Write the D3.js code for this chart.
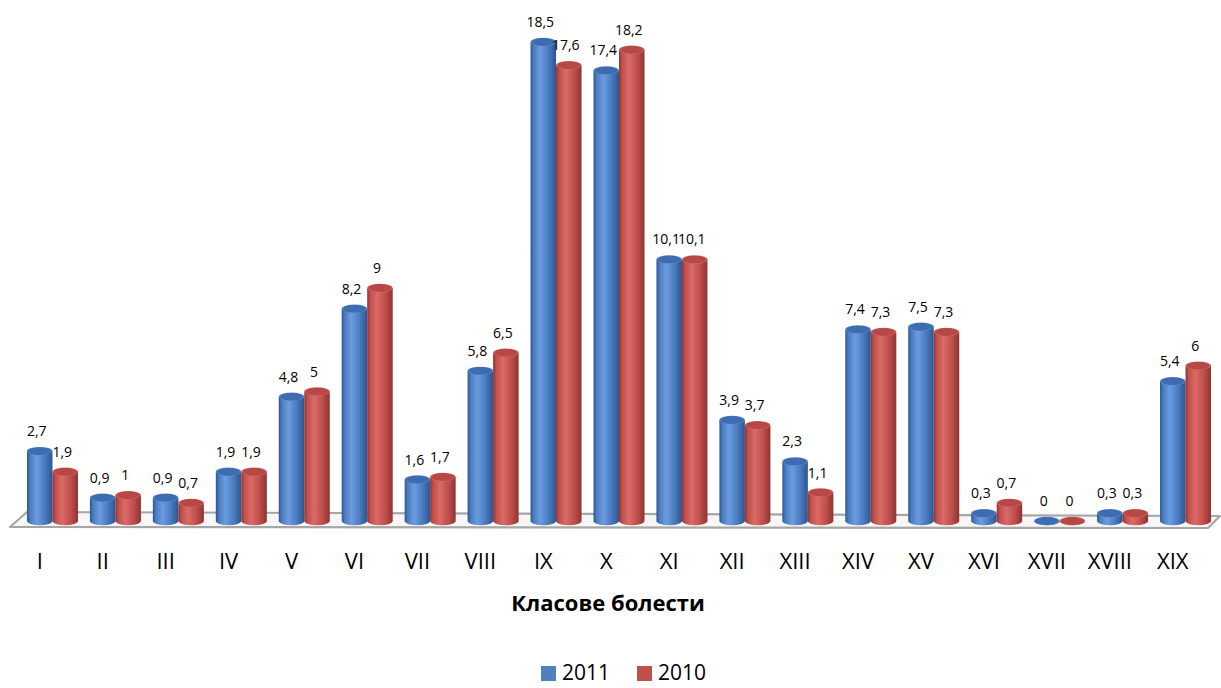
<!DOCTYPE html>
<html>
<head>
<meta charset="utf-8">
<script src="https://cdn.jsdelivr.net/npm/d3@7"></script>
<style>
  html, body { margin: 0; padding: 0; background: #fff; }
  svg { display: block; font-family: "Open Sans", "Liberation Sans", sans-serif; }
</style>
</head>
<body>
<svg id="chart" width="1221" height="688"></svg>
<script>
// Disease classes (Roman numerals) and shares per year
const categories = ["I","II","III","IV","V","VI","VII","VIII","IX","X","XI","XII","XIII","XIV","XV","XVI","XVII","XVIII","XIX"];
const seriesNames = ["2011", "2010"];
const values2011 = [2.7, 0.9, 0.9, 1.9, 4.8, 8.2, 1.6, 5.8, 18.5, 17.4, 10.1, 3.9, 2.3, 7.4, 7.5, 0.3, 0, 0.3, 5.4];
const values2010 = [1.9, 1, 0.7, 1.9, 5, 9, 1.7, 6.5, 17.6, 18.2, 10.1, 3.7, 1.1, 7.3, 7.3, 0.7, 0, 0.3, 6];
const axisTitle = "Класове болести";

const svg = d3.select("#chart");

const x = d3.scaleBand().domain(categories).range([21, 1217]).paddingInner(0).paddingOuter(0);
const x1 = d3.scaleBand().domain(seriesNames).range([0, x.bandwidth()]).paddingInner(0).paddingOuter(0.234);
const y = d3.scaleLinear().domain([0, 18.5]).range([521, 42]);

const palette = {
  "2011": { dark: "#2c5590", mid: "#4a7cc0", light: "#6c9be0", top: "#3e6cb0", rim: "#6d97d6", flat: "#4f81bd" },
  "2010": { dark: "#8f3331", mid: "#c0504d", light: "#dc6a66", top: "#b84845", rim: "#dc7a76", flat: "#c0504d" }
};

const defs = svg.append("defs");
seriesNames.forEach(s => {
  const p = palette[s];
  const g = defs.append("linearGradient").attr("id", "body" + s)
    .attr("x1", "0%").attr("x2", "100%").attr("y1", "0%").attr("y2", "0%");
  [[0, p.dark], [0.12, p.mid], [0.38, p.light], [0.7, p.mid], [1, p.dark]]
    .forEach(([o, c]) => g.append("stop").attr("offset", o).attr("stop-color", c));
  const t = defs.append("radialGradient").attr("id", "top" + s).attr("cx", "50%").attr("cy", "50%").attr("r", "55%");
  [[0, p.top], [0.75, p.top], [1, p.rim]]
    .forEach(([o, c]) => t.append("stop").attr("offset", o).attr("stop-color", c));
});

// Floor plate
const y0 = y(0);
const floorPts = [
  [x.range()[0] - 11, y0 + 6],
  [x.range()[1] - 9, y0 + 7],
  [x.range()[1] + 3, y0 - 5],
  [x.range()[0] + 6, y0 - 9]
];
svg.append("polygon")
  .attr("points", floorPts.map(p => p.join(",")).join(" "))
  .attr("fill", "#f7f7f7")
  .attr("stroke", "#a6a6a6")
  .attr("stroke-width", 2.2)
  .attr("stroke-linejoin", "round");

// Data table for bars
const rows = [];
categories.forEach((c, i) => {
  rows.push({ cat: c, series: "2011", value: values2011[i] });
  rows.push({ cat: c, series: "2010", value: values2010[i] });
});

const ry = 4.2;
const bars = svg.append("g").selectAll("g").data(rows).join("g");

bars.each(function(d) {
  const g = d3.select(this);
  const left = x(d.cat) + x1(d.series);
  const w = x1.bandwidth();
  const rx = w / 2;
  const cx = left + rx;
  const yt = y(d.value);
  const yb = y(0);
  // cylinder body with rounded bottom
  g.append("path")
    .attr("d", `M${left},${yt} L${left},${yb} A${rx},${ry} 0 0 0 ${left + w},${yb} L${left + w},${yt} Z`)
    .attr("fill", `url(#body${d.series})`);
  // top cap
  g.append("ellipse")
    .attr("cx", cx).attr("cy", yt).attr("rx", rx).attr("ry", ry)
    .attr("fill", `url(#top${d.series})`);
});

// Value labels
svg.append("g").selectAll("text").data(rows).join("text")
  .attr("x", d => x(d.cat) + x1(d.series) + x1.bandwidth() / 2 - 3)
  .attr("y", d => y(d.value) - 15)
  .attr("text-anchor", "middle")
  .attr("font-size", 14)
  .attr("fill", "#000")
  .text(d => String(d.value).replace(".", ","));

// Category axis
const axis = svg.append("g")
  .attr("transform", `translate(0,${y0 + 26})`)
  .call(d3.axisBottom(x).tickSize(0).tickPadding(6));
axis.select(".domain").remove();
axis.selectAll("text")
  .attr("dx", -x.bandwidth() / 2 + x1(seriesNames[0]) + x1.bandwidth() / 2)
  .attr("font-size", 22)
  .attr("font-family", "'Open Sans', sans-serif")
  .attr("fill", "#000");

// Axis title
svg.append("text")
  .attr("x", 608).attr("y", 611)
  .attr("text-anchor", "middle")
  .attr("font-size", 22)
  .attr("font-weight", "bold")
  .attr("fill", "#000")
  .text(axisTitle);

// Legend
const legend = svg.append("g").attr("transform", "translate(541,666)");
const lx = [0, 96];
seriesNames.forEach((s, i) => {
  const lg = legend.append("g").attr("transform", `translate(${lx[i]},0)`);
  lg.append("rect").attr("x", 0).attr("y", 0).attr("width", 15).attr("height", 15)
    .attr("fill", palette[s].flat);
  lg.append("text").attr("x", 21).attr("y", 14).attr("font-size", 21).attr("fill", "#000").text(s);
});
</script>
</body>
</html>
